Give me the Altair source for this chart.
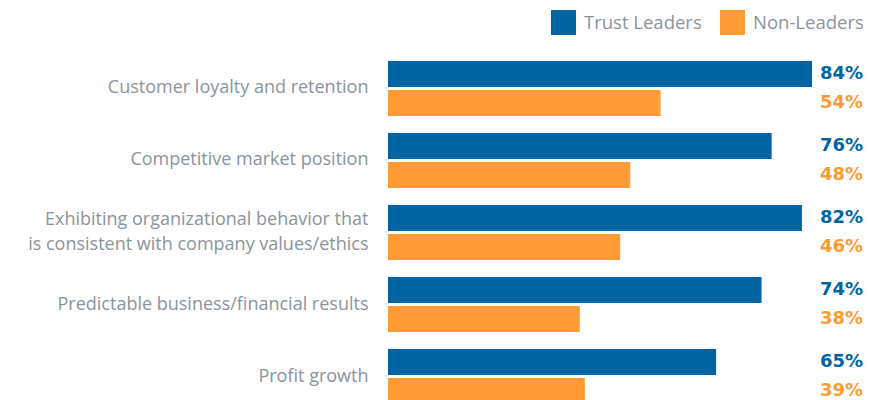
import altair as alt
import pandas as pd

categories = [
    "Customer loyalty and retention",
    "Competitive market position",
    "Exhibiting organizational behavior that|is consistent with company values/ethics",
    "Predictable business/financial results",
    "Profit growth",
]
series = ["Trust Leaders", "Non-Leaders"]
trust_leaders = [84, 76, 82, 74, 65]
non_leaders = [54, 48, 46, 38, 39]

BLUE = "#0064a3"
ORANGE = "#fe9b35"
GRAY = "#8b949c"
FONT = "Open Sans"

rows = []
for c, t, n in zip(categories, trust_leaders, non_leaders):
    rows.append({"category": c, "series": series[0], "value": t, "label": f"{t}%"})
    rows.append({"category": c, "series": series[1], "value": n, "label": f"{n}%"})
df = pd.DataFrame(rows)

color_scale = alt.Scale(domain=series, range=[BLUE, ORANGE])

base = alt.Chart(df).encode(
    y=alt.Y(
        "category:N",
        sort=categories,
        scale=alt.Scale(paddingInner=0.236, paddingOuter=0.736),
        axis=alt.Axis(
            title=None,
            domain=False,
            ticks=False,
            labelPadding=20,
            labelFontSize=18,
            labelFont=FONT,
            labelColor=GRAY,
            labelLimit=400,
            labelLineHeight=25,
            labelOffset={
                "condition": {"test": "indexof(datum.value, '|') >= 0", "value": -12.5},
                "value": 0,
            },
            labelExpr="split(datum.label, '|')",
        ),
    ),
    yOffset=alt.YOffset(
        "series:N", sort=series, scale=alt.Scale(paddingInner=0.1034, paddingOuter=0)
    ),
)

bars = base.mark_bar().encode(
    x=alt.X("value:Q", scale=alt.Scale(domain=[0, 94.1], nice=False, zero=True), axis=None),
    color=alt.Color(
        "series:N",
        scale=color_scale,
        sort=series,
        legend=alt.Legend(
            title=None,
            orient="none",
            legendX=163,
            legendY=2,
            direction="horizontal",
            symbolType="square",
            symbolSize=625,
            symbolStrokeWidth=0,
            symbolOpacity=1,
            labelFontSize=18.5,
            labelFont=FONT,
            labelColor=GRAY,
            labelOffset=8,
            columnPadding=18,
            padding=0,
        ),
    ),
)

texts = base.mark_text(
    align="right", baseline="middle", fontWeight="bold", fontSize=18, font="DejaVu Sans"
).encode(
    x=alt.value(475),
    text=alt.Text("label:N"),
    color=alt.Color("series:N", scale=color_scale, legend=None),
)

chart = (
    alt.layer(bars, texts)
    .properties(
        width=475,
        height=449,
        autosize=alt.AutoSizeParams(type="none"),
        padding={"left": 380, "top": 0, "right": 0, "bottom": 0},
    )
    .configure_view(stroke=None)
)

chart.save("out.html", embed_options={"renderer": "svg", "actions": False})
